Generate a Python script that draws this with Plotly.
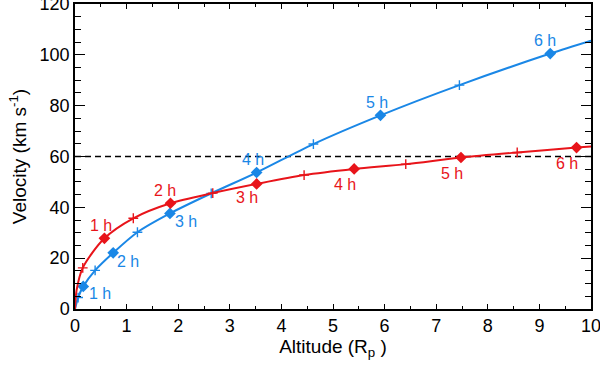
import plotly.graph_objects as go

# Hours after launch at which markers are drawn
hours = [0.5, 1, 1.5, 2, 2.5, 3, 3.5, 4, 4.5, 5, 5.5, 6]
hour_labels = ["1 h", "2 h", "3 h", "4 h", "5 h", "6 h"]

# Blue track: altitude (R_p) and velocity (km/s) at each half hour
blue_alt = [0.06, 0.16, 0.39, 0.74, 1.21, 1.84, 2.64, 3.52, 4.62, 5.92, 7.45, 9.21]
blue_vel = [4.5, 8.9, 15.2, 22.1, 30.2, 37.6, 45.5, 53.7, 64.9, 76.2, 88.1, 100.5]
blue_start_alt = [0.0]
blue_start_vel = [0.0]
blue_end_alt = [10.0]
blue_end_vel = [105.6]

# Red track
red_alt = [0.15, 0.57, 1.13, 1.85, 2.67, 3.52, 4.44, 5.41, 6.41, 7.48, 8.57, 9.72]
red_vel = [16.2, 27.8, 35.7, 41.6, 45.6, 49.2, 52.7, 55.1, 57.0, 59.6, 61.6, 63.5]
red_start_alt = [0.0, 0.03]
red_start_vel = [0.0, 7.3]
red_end_alt = [10.0]
red_end_vel = [63.9]

threshold = 60

BLUE = "#1a87e6"
RED = "#e8141a"
FONT = "Liberation Sans, Arial, Helvetica, sans-serif"

fig = go.Figure()

# dashed reference line
fig.add_trace(go.Scatter(x=[0, 10], y=[threshold, threshold], mode="lines",
                         line=dict(color="black", width=1.3, dash="6px,4px"),
                         showlegend=False, hoverinfo="skip"))


def add_track(alt, vel, sx, sy, ex, ey, color):
    fig.add_trace(go.Scatter(x=sx + alt + ex, y=sy + vel + ey, mode="lines",
                             line=dict(color=color, width=2, shape="spline", smoothing=0.8),
                             showlegend=False))
    half_x = [a for a, h in zip(alt, hours) if h != int(h)]
    half_y = [v for v, h in zip(vel, hours) if h != int(h)]
    full_x = [a for a, h in zip(alt, hours) if h == int(h)]
    full_y = [v for v, h in zip(vel, hours) if h == int(h)]
    fig.add_trace(go.Scatter(x=half_x, y=half_y, mode="markers",
                             marker=dict(symbol="cross-thin", size=7,
                                         line=dict(color=color, width=1.4)),
                             showlegend=False))
    fig.add_trace(go.Scatter(x=full_x, y=full_y, mode="markers",
                             marker=dict(symbol="diamond", size=9, color=color),
                             showlegend=False))
    return full_x, full_y


bfx, bfy = add_track(blue_alt, blue_vel, blue_start_alt, blue_start_vel,
                     blue_end_alt, blue_end_vel, BLUE)
rfx, rfy = add_track(red_alt, red_vel, red_start_alt, red_start_vel,
                     red_end_alt, red_end_vel, RED)

blue_shift = [(17, -7), (15, -9), (16, -8), (-4, 13), (-3, 13), (-5, 13)]
red_shift = [(-3, 13), (-5, 13), (-10, -14), (-9, -16), (-9, -16), (-10, -16)]

for x, y, t, (dx, dy) in zip(bfx, bfy, hour_labels, blue_shift):
    fig.add_annotation(x=x, y=y, text=t, showarrow=False, xshift=dx, yshift=dy,
                       font=dict(color=BLUE, size=16, family=FONT))
for x, y, t, (dx, dy) in zip(rfx, rfy, hour_labels, red_shift):
    fig.add_annotation(x=x, y=y, text=t, showarrow=False, xshift=dx, yshift=dy,
                       font=dict(color=RED, size=16, family=FONT))

fig.update_layout(
    width=600, height=365,
    margin=dict(l=75, r=9, t=4, b=56, autoexpand=False),
    paper_bgcolor="white", plot_bgcolor="white",
    font=dict(family=FONT, size=18, color="black"),
)
fig.update_xaxes(
    range=[0, 10], tickmode="linear", tick0=0, dtick=1,
    ticks="inside", ticklen=5, tickwidth=1.3, tickcolor="black",
    showline=True, linecolor="black", linewidth=1.5, mirror="allticks",
    showgrid=False, zeroline=False, automargin=False,
    ticklabeloverflow="allow",
    minor=dict(dtick=0.5, ticks="inside", ticklen=3, tickwidth=1.3, tickcolor="black", showgrid=False),
    title=dict(text="Altitude (R<sub>p</sub> )", font=dict(size=19), standoff=2),
    tickfont=dict(size=18),
)
fig.update_yaxes(
    range=[0, 120], tickmode="linear", tick0=0, dtick=20,
    ticks="inside", ticklen=10, tickwidth=1.3, tickcolor="black",
    showline=True, linecolor="black", linewidth=1.5, mirror="allticks",
    showgrid=False, zeroline=False, automargin=False,
    ticklabeloverflow="allow",
    minor=dict(dtick=5, ticks="inside", ticklen=6, tickwidth=1.3, tickcolor="black", showgrid=False),
    title=dict(text="Velocity (km s<sup>-1</sup>)", font=dict(size=19), standoff=8),
    tickfont=dict(size=18),
)

fig.write_html("out.html", config={"displayModeBar": False},
               post_script="document.body.style.margin='0';document.body.style.overflow='hidden';")
